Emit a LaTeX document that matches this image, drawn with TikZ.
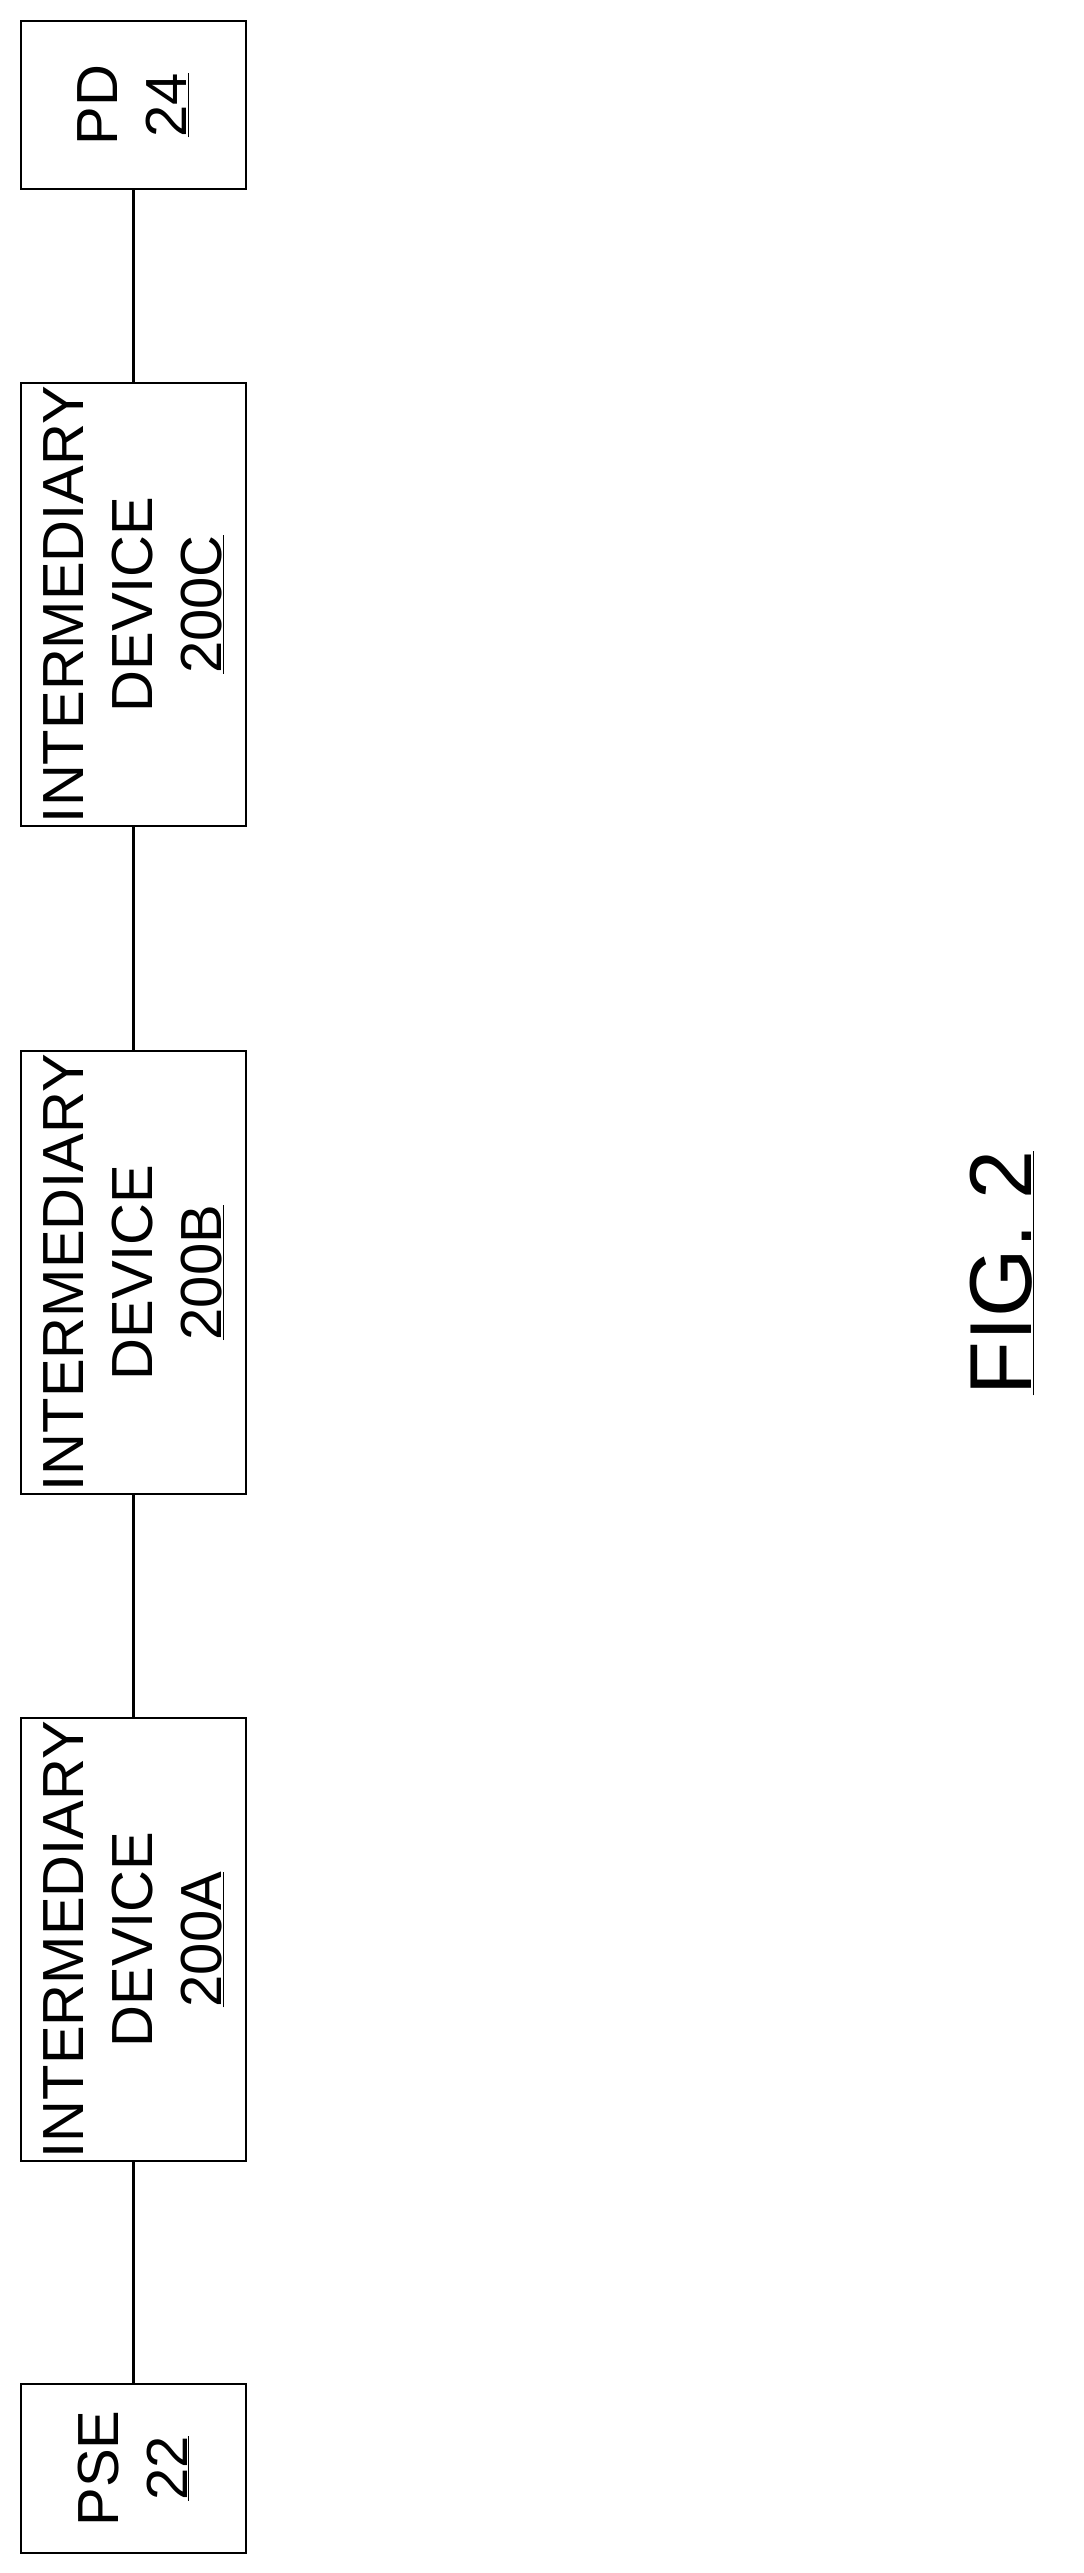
\documentclass[tikz,border=0pt]{standalone}
\usepackage{fontspec}
\setmainfont{Liberation Sans}
\begin{document}
\begin{tikzpicture}[x=1pt,y=-1pt,
  blk/.style={draw,line width=2.5pt,minimum width=225pt,inner sep=0pt},
  lbl/.style={rotate=90,align=center,font=\fontsize{58}{69}\selectfont},
  wire/.style={line width=2.5pt}]
\useasboundingbox (0,0) rectangle (1084,2573);
\node[blk,minimum height=168pt] (pd) at (133.5,105) {};
\node[lbl] at (pd) {PD\\\underline{24}};
\node[blk,minimum height=443pt] (c) at (133.5,604.5) {};
\node[lbl] at (c) {INTERMEDIARY\\DEVICE\\\underline{200C}};
\node[blk,minimum height=443pt] (b) at (133.5,1272.5) {};
\node[lbl] at (b) {INTERMEDIARY\\DEVICE\\\underline{200B}};
\node[blk,minimum height=443pt] (a) at (133.5,1939.5) {};
\node[lbl] at (a) {INTERMEDIARY\\DEVICE\\\underline{200A}};
\node[blk,minimum height=169pt] (pse) at (133.5,2468.5) {};
\node[lbl] at (pse) {PSE\\\underline{22}};
\draw[wire] (pd.south) -- (c.north);
\draw[wire] (c.south) -- (b.north);
\draw[wire] (b.south) -- (a.north);
\draw[wire] (a.south) -- (pse.north);
\node[rotate=90,font=\fontsize{88}{100}\selectfont] (fig) at (1002,1273) {\underline{FIG. 2}};
\end{tikzpicture}
\end{document}
